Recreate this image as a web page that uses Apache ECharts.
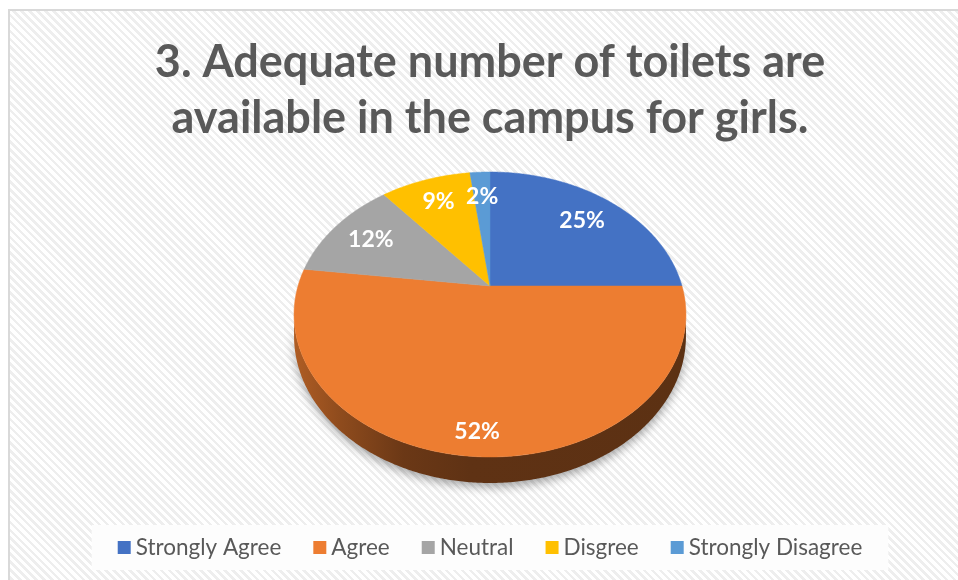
<!DOCTYPE html>
<html>
<head>
<meta charset="utf-8">
<script src="https://cdn.jsdelivr.net/npm/echarts@6/dist/echarts.min.js"></script>
<style>
html, body { margin: 0; padding: 0; width: 958px; height: 580px; overflow: hidden; background: #ffffff; }
#frame {
  position: absolute; left: 8px; top: 9px; width: 1000px; height: 620px;
  border-left: 2px solid #d9d9d9; border-top: 2px solid #d9d9d9;
  background: repeating-linear-gradient(45deg, #ffffff 0px, #ffffff 3px, #eeeeee 3px, #eeeeee 5.6px);
}
#chart { position: absolute; left: 0; top: 0; width: 980px; height: 580px; }
</style>
</head>
<body>
<div id="frame"></div>
<div id="chart"></div>
<script>
// ---- data ----
const titleText = '3. Adequate number of toilets are\navailable in the campus for girls.';
const categories = ['Strongly Agree', 'Agree', 'Neutral', 'Disgree', 'Strongly Disagree'];
const values = [25, 52, 12, 9, 2];

// ---- styles / layout ----
const palette = ['#4472C4', '#ED7D31', '#A5A5A5', '#FFC000', '#5B9BD5'];
const labelRadius = [0.75, 0.88, 0.76, 0.77, 0.75];
const FONT = 'Lato, "Open Sans", sans-serif';
const PIE = { cx: 490, cy: 286, A: 192, B: 136.8, k: 0.2, depth: 20.8 };

function proj(u, v, down) {
  const d = 1 + PIE.k * v;
  return [PIE.cx + PIE.A * u / d, PIE.cy - (PIE.B * v - (down || 0)) / d];
}
function shade(hex, f) {
  const n = parseInt(hex.slice(1), 16);
  const r = Math.round(((n >> 16) & 255) * f), g = Math.round(((n >> 8) & 255) * f), b = Math.round((n & 255) * f);
  return 'rgb(' + r + ',' + g + ',' + b + ')';
}

const total = values.reduce((a, b) => a + b, 0);

function makeRenderer(i) {
  return function (params, api) {
    let before = 0;
    for (let j = 0; j < i; j++) before += values[j];
    const val = api.value(0);
    const a0 = before / total * Math.PI * 2;
    const a1 = (before + val) / total * Math.PI * 2;
    const deg = Math.PI / 180;
    const children = [];
    const color = palette[i];

    // top face
    const steps = Math.max(2, Math.ceil((a1 - a0) / (deg / 2)));
    const top = [proj(0, 0)];
    for (let s = 0; s <= steps; s++) {
      const a = a0 + (a1 - a0) * s / steps;
      top.push(proj(Math.sin(a), Math.cos(a)));
    }
    children.push({
      type: 'polygon', shape: { points: top }, z2: 10,
      style: { fill: color, stroke: color, lineWidth: 0.5 }
    });

    // visible side wall (front part)
    const visA = Math.acos(-PIE.k), visB = Math.PI * 2 - Math.acos(-PIE.k);
    const w0 = Math.max(a0, visA), w1 = Math.min(a1, visB);
    if (w1 > w0) {
      const ws = Math.max(2, Math.ceil((w1 - w0) / (deg / 2)));
      const pts = [];
      for (let s = 0; s <= ws; s++) {
        const a = w0 + (w1 - w0) * s / ws;
        pts.push(proj(Math.sin(a), Math.cos(a)));
      }
      for (let s = ws; s >= 0; s--) {
        const a = w0 + (w1 - w0) * s / ws;
        pts.push(proj(Math.sin(a), Math.cos(a), PIE.depth));
      }
      children.push({
        type: 'polygon', shape: { points: pts }, z2: 1,
        style: {
          fill: new echarts.graphic.LinearGradient(PIE.cx - 196, 0, PIE.cx + 196, 0, [
            { offset: 0, color: shade(color, 0.74) },
            { offset: 0.12, color: shade(color, 0.6) },
            { offset: 0.28, color: shade(color, 0.45) },
            { offset: 0.45, color: shade(color, 0.4) },
            { offset: 1, color: shade(color, 0.39) }
          ], true),
          shadowBlur: 10, shadowColor: 'rgba(0,0,0,0.35)', shadowOffsetY: 4
        }
      });
    }

    // label
    const am = (a0 + a1) / 2;
    const r = labelRadius[i];
    const lp = proj(r * Math.sin(am), r * Math.cos(am));
    children.push({
      type: 'text', x: lp[0], y: lp[1], z2: 30,
      style: {
        text: Math.round(val / total * 100) + '%',
        fill: '#ffffff', font: 'bold 23px ' + FONT,
        align: 'center', verticalAlign: 'middle'
      }
    });
    return { type: 'group', children: children };
  };
}

const chart = echarts.init(document.getElementById('chart'), null, { renderer: 'canvas' });
chart.setOption({
  animation: false,
  backgroundColor: 'transparent',
  title: {
    text: titleText,
    left: 'center', top: 34, padding: 0,
    textStyle: { fontFamily: FONT, fontSize: 45, fontWeight: 'bold', color: '#595959', lineHeight: 56 }
  },
  legend: {
    data: categories,
    left: 'center', top: 525,
    icon: 'rect', itemWidth: 13, itemHeight: 13, itemGap: 32,
    backgroundColor: '#fdfdfd', padding: [11, 26],
    textStyle: { fontFamily: FONT, fontSize: 22.5, color: '#595959' },
    selectedMode: false
  },
  series: categories.map((name, i) => ({
    type: 'custom',
    name: name,
    coordinateSystem: 'none',
    silent: true,
    itemStyle: { color: palette[i] },
    data: [[values[i]]],
    renderItem: makeRenderer(i)
  }))
});
</script>
</body>
</html>
